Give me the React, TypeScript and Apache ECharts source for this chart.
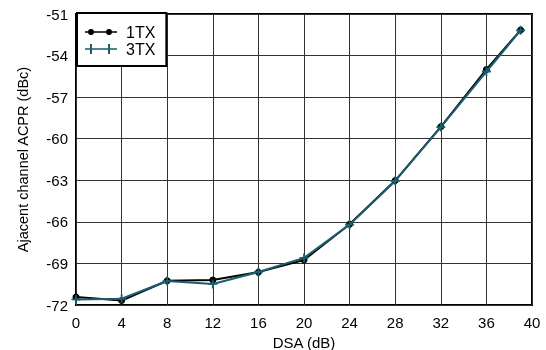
import React, { useEffect, useRef } from "react";
import * as echarts from "echarts";

const dsa = [0, 4, 8, 12, 16, 20, 24, 28, 32, 36, 39];
const acpr1TX = [-71.42, -71.68, -70.25, -70.2, -69.63, -68.75, -66.17, -63.02, -59.14, -55.0, -52.16];
const acpr3TX = [-71.6, -71.55, -70.27, -70.48, -69.62, -68.6, -66.2, -63.05, -59.16, -55.15, -52.18];
const seriesNames = ["1TX", "3TX"];
const colors = ["#000000", "#1b5e6e"];

const FONT = "'Liberation Sans', Arial, sans-serif";

export default function App() {
  const ref = useRef<HTMLDivElement>(null);
  useEffect(() => {
    if (!ref.current) return;
    const chart = echarts.init(ref.current, undefined, { renderer: "svg" });
    const icon1 =
      "path://M0 4.2H32V5.8H0Z M3 5A3 3 0 1 1 9 5A3 3 0 1 1 3 5Z M21 5A3 3 0 1 1 27 5A3 3 0 1 1 21 5Z M0 0H0.01V0.01H0Z M0 9.99H0.01V10H0Z";
    const icon3 =
      "path://M0 4.2H32V5.8H0Z M5 0H7V10H5Z M23 0H25V10H23Z";
    chart.setOption({
      animation: false,
      textStyle: { fontFamily: FONT },
      grid: {
        left: 76,
        right: 14,
        top: 14,
        bottom: 45,
        show: true,
        borderColor: "#000",
        borderWidth: 2,
        backgroundColor: "transparent",
        outerBoundsMode: "none",
        containLabel: false,
      },
      legend: {
        left: 77,
        top: 13,
        orient: "vertical",
        backgroundColor: "#fff",
        borderColor: "#000",
        borderWidth: 2,
        borderRadius: 0,
        padding: [11, 11, 9, 8],
        itemGap: 1,
        itemWidth: 32,
        itemHeight: 10,
        textStyle: { fontSize: 16, lineHeight: 16, color: "#000", fontFamily: FONT, padding: [0, 0, 0, 4] },
        data: [
          { name: seriesNames[0], icon: icon1 },
          { name: seriesNames[1], icon: icon3 },
        ],
      },
      xAxis: {
        type: "value",
        min: 0,
        max: 40,
        interval: 4,
        name: "DSA (dB)",
        nameLocation: "middle",
        nameGap: 27,
        nameTextStyle: { fontSize: 15, color: "#000", fontFamily: FONT },
        axisLine: { show: false },
        axisTick: { show: false },
        axisLabel: { fontSize: 15, color: "#000", margin: 10, fontFamily: FONT },
        splitLine: { show: true, lineStyle: { color: "#333", width: 1 } },
      },
      yAxis: {
        type: "value",
        min: -72,
        max: -51,
        interval: 3,
        name: "Ajacent channel ACPR (dBc)",
        nameLocation: "middle",
        nameGap: 46,
        nameTextStyle: { fontSize: 14.5, color: "#000", fontFamily: FONT },
        axisLine: { show: false },
        axisTick: { show: false },
        axisLabel: { fontSize: 15, color: "#000", margin: 8, fontFamily: FONT },
        splitLine: { show: true, lineStyle: { color: "#333", width: 1 } },
      },
      series: [
        {
          name: seriesNames[0],
          type: "line",
          data: dsa.map((x, i) => [x, acpr1TX[i]]),
          color: colors[0],
          lineStyle: { width: 2, color: colors[0] },
          symbol: "circle",
          symbolSize: 7,
          itemStyle: { color: colors[0] },
          z: 2,
        },
        {
          name: seriesNames[1],
          type: "line",
          data: dsa.map((x, i) => [x, acpr3TX[i]]),
          color: colors[1],
          lineStyle: { width: 2, color: colors[1] },
          symbol: "path://M4 0H6V4H10V6H6V10H4V6H0V4H4Z",
          symbolSize: 9,
          itemStyle: { color: colors[1] },
          z: 3,
        },
      ],
    });
    return () => chart.dispose();
  }, []);
  return <div ref={ref} style={{ width: 546, height: 350, position: "fixed", left: 0, top: 0 }} />;
}
